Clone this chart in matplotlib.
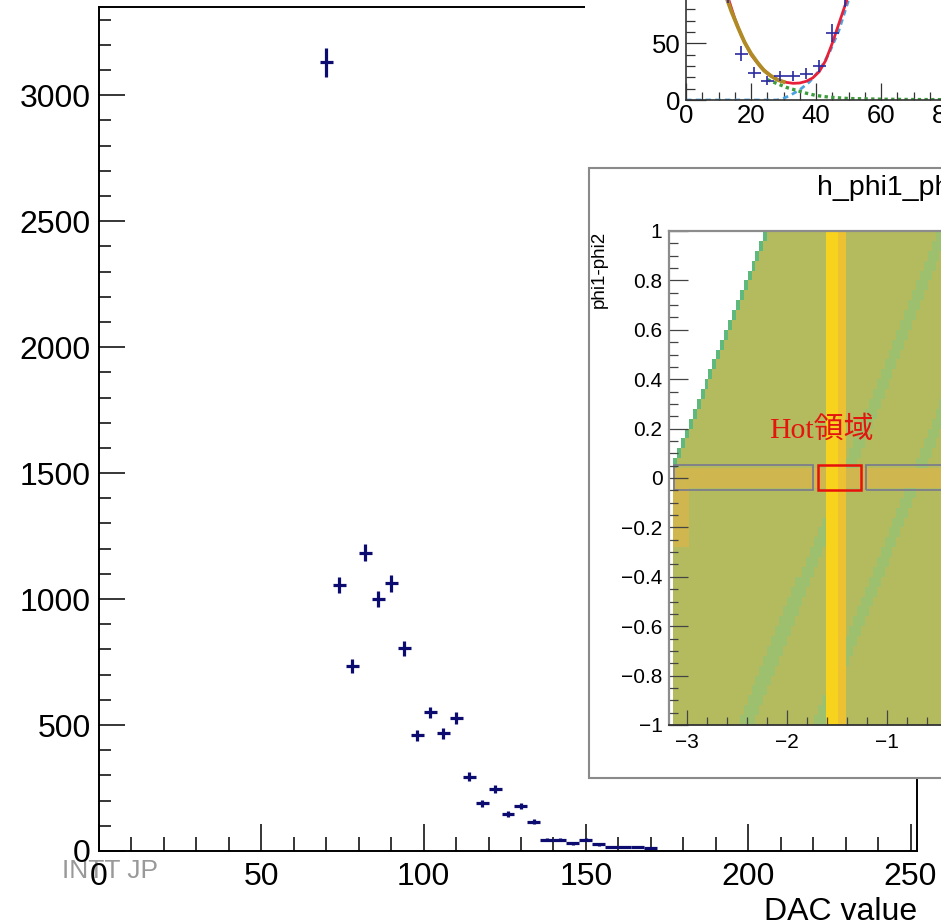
"""Threshold scan histogram with two pasted insets (fit view and phi map)."""
import numpy as np
import matplotlib
matplotlib.use("Agg")
import matplotlib.pyplot as plt
from matplotlib.colors import ListedColormap, BoundaryNorm
from matplotlib.patches import Rectangle
from matplotlib.ticker import MultipleLocator, FuncFormatter

plt.rcParams["font.family"] = ["Liberation Sans", "DejaVu Sans"]

W, H = 941, 924

# --- main histogram: entries per DAC bin (bin width 4) ---------------------
dac_centers = [70, 74, 78, 82, 86, 90, 94, 98, 102, 106, 110, 114, 118, 122,
               126, 130, 134, 138, 142, 146, 150, 154, 158, 162, 166, 170]
dac_counts = [3130, 1055, 734, 1184, 1001, 1062, 804, 460, 550, 467, 529, 295,
              189, 245, 146, 179, 116, 45, 45, 30, 45, 27, 17, 17, 15, 10]
dac_half_bin = 2

# --- top-right inset: fitted scan -----------------------------------------
fit_pts_x = [13, 17, 21, 25, 29, 33, 37, 41, 45, 49]
fit_pts_y = [95, 41, 24, 17, 21, 21, 23, 30, 59, 92]
total_x = [11, 13, 15, 17, 20, 23, 26, 29, 31, 33, 35, 37, 39, 41, 43, 45, 47, 49, 51, 53]
total_y = [110, 90, 72, 57, 40, 29, 21.5, 17, 15.5, 14.7, 15, 16.5, 19.5, 25, 35,
           50, 67, 84, 102, 120]
low_x = [10, 12, 14, 16, 18, 20, 22, 24, 26, 28, 30]
low_y = [112, 94, 78, 64, 51, 41, 33, 26, 21.5, 18, 16]
tail_x = [25, 28, 31, 34, 37, 40, 44, 50, 60, 70, 80, 100]
tail_y = [18, 14.5, 11, 8.5, 6, 4, 2.5, 1.3, 0.7, 0.4, 0.3, 0.2]
rise_x = [0, 28, 30, 32, 35, 38, 41, 44, 47, 50, 52]
rise_y = [0, 0, 1.5, 4, 9, 16, 26, 41, 61, 88, 108]

# --- lower-right inset: phi1 vs phi1-phi2 map, by its visible regions -------
band_core = (-1.61, -1.50)       # bright yellow column
band_edge = (-1.50, -1.40)       # golden column next to it
hot_row = (-0.05, 0.05)          # warmer row at phi1-phi2 ~ 0
tan_patch = (-3.15, -2.98, -0.28, 0.05)
empty_offset = 3.2               # (phi1-phi2) - phi1 above this is empty
stripe_offsets = [1.42, 0.70]
stripe_half = 0.065
level_colors = ["#5fb87c", "#9cc06d", "#b4bb5f", "#cfb64f", "#ecc232", "#f8d31e"]
grey_boxes = [(-3.13, -1.74), (-1.21, 3.12)]
red_box = (-1.69, -1.26)
box_y = (-0.047, 0.054)


def fig_box(x0, y0, x1, y1):
    """pixel box (top-left origin) -> figure fraction [l, b, w, h]"""
    return [x0 / W, 1 - y1 / H, (x1 - x0) / W, (y1 - y0) / H]


fig = plt.figure(figsize=(W / 100, H / 100), dpi=100)

# ---------------- main panel ----------------
ax = fig.add_axes(fig_box(99, 7, 917, 851))
ax.set_zorder(0)
ax.errorbar(dac_centers, dac_counts, xerr=dac_half_bin, yerr=np.sqrt(dac_counts),
            fmt="none", ecolor="#0c0c70", elinewidth=2.3, capsize=0)
ax.set_xlim(0, 252)
ax.set_ylim(0, 3350)
ax.xaxis.set_major_locator(MultipleLocator(50))
ax.xaxis.set_minor_locator(MultipleLocator(10))
ax.yaxis.set_major_locator(MultipleLocator(500))
ax.yaxis.set_minor_locator(MultipleLocator(100))
ax.tick_params(axis="both", which="both", direction="in", width=1.1, labelsize=23)
ax.tick_params(axis="x", which="major", length=19.5, pad=8)
ax.tick_params(axis="x", which="minor", length=10)
ax.tick_params(axis="y", which="major", length=18.5, pad=6)
ax.tick_params(axis="y", which="minor", length=8.6)
for s in ax.spines.values():
    s.set_linewidth(1.4)
fig.text(917 / W, 1 - 920 / H, "DAC value", ha="right", va="baseline", fontsize=23)
fig.text(62 / W, 1 - 878 / H, "INTT JP", ha="left", va="baseline", fontsize=19,
         color="#8e8e8e", alpha=0.9, zorder=-1)

# ---------------- top-right inset ----------------
fig.add_artist(Rectangle((585 / W, 1 - 169 / H), (W - 585) / W, 169 / H,
                         transform=fig.transFigure, facecolor="white",
                         edgecolor="none", zorder=1))
ax1 = fig.add_axes(fig_box(686, -36, 1011, 100))
ax1.set_zorder(2)
ax1.set_xlim(0, 100)
ax1.set_ylim(0, 120)
ax1.plot(rise_x, rise_y, color="#4aa3df", lw=2.0, ls=(0, (2, 1.5)))
ax1.plot(tail_x, tail_y, color="#3c9c3c", lw=2.4, ls=(0, (1, 1)))
ax1.plot(total_x, total_y, color="#e8213a", lw=2.0)
ax1.plot(low_x, low_y, color="#b08a24", lw=2.8)
ax1.errorbar(fit_pts_x, fit_pts_y, xerr=2, yerr=np.sqrt(fit_pts_y), fmt="none",
             ecolor="#2a2aa0", elinewidth=1.2, capsize=0)
ax1.xaxis.set_major_locator(MultipleLocator(20))
ax1.xaxis.set_minor_locator(MultipleLocator(5))
ax1.yaxis.set_major_locator(MultipleLocator(50))
ax1.yaxis.set_minor_locator(MultipleLocator(10))
ax1.tick_params(axis="both", which="both", direction="in", width=0.9,
                labelsize=18.5, color="#333333")
ax1.tick_params(axis="x", which="major", length=12, pad=3)
ax1.tick_params(axis="x", which="minor", length=6)
ax1.tick_params(axis="y", which="major", length=14.5, pad=4)
ax1.tick_params(axis="y", which="minor", length=6.5)
ax1.spines["top"].set_visible(False)
ax1.spines["right"].set_visible(False)
for s in ("left", "bottom"):
    ax1.spines[s].set_linewidth(1.2)
    ax1.spines[s].set_color("#333333")

# ---------------- lower-right inset ----------------
fig.add_artist(Rectangle((589 / W, 1 - 778 / H), (W + 20 - 589) / W, (778 - 168) / H,
                         transform=fig.transFigure, facecolor="white",
                         edgecolor="#8a8a8a", lw=1.5, zorder=3))
ax2 = fig.add_axes(fig_box(669.4, 231, 1305.5, 725))
ax2.set_zorder(4)

xe = np.linspace(-np.pi, np.pi, 161)
ye = np.linspace(-1, 1, 51)
X, Y = np.meshgrid(0.5 * (xe[1:] + xe[:-1]), 0.5 * (ye[1:] + ye[:-1]))
D = Y - X
lvl = np.full(X.shape, 3.0)
for c in stripe_offsets:
    lvl[np.abs(D - c) < stripe_half] = 2
lvl[(Y > hot_row[0]) & (Y < hot_row[1])] = 4
lvl[(X > tan_patch[0]) & (X < tan_patch[1]) & (Y > tan_patch[2]) & (Y < tan_patch[3])] = 4
lvl[(X >= band_core[0]) & (X < band_core[1])] = 6
lvl[(X >= band_edge[0]) & (X < band_edge[1])] = 5
lvl[D > empty_offset - 0.04] = 1
lvl[D > empty_offset] = np.nan
cmap = ListedColormap(level_colors)
norm = BoundaryNorm(np.arange(0.5, 7.5, 1), cmap.N)
ax2.pcolormesh(xe, ye, np.ma.masked_invalid(lvl), cmap=cmap, norm=norm)

for x0, x1 in grey_boxes:
    ax2.add_patch(Rectangle((x0, box_y[0]), x1 - x0, box_y[1] - box_y[0],
                            fill=False, edgecolor="#7d7d8c", lw=1.3))
ax2.add_patch(Rectangle((red_box[0], box_y[0]), red_box[1] - red_box[0],
                        box_y[1] - box_y[0], fill=False, edgecolor="#e8100a", lw=1.8))
ax2.text(-1.652, 0.163, "Hot領域", ha="center", va="baseline", fontsize=21.5,
         color="#e3150f", family=["Liberation Serif", "Noto Sans CJK JP"])

ax2.set_xlim(-3.18, 3.2)
ax2.set_ylim(-1, 1)
ax2.xaxis.set_major_locator(MultipleLocator(1))
ax2.xaxis.set_minor_locator(MultipleLocator(0.2))
ax2.yaxis.set_major_locator(MultipleLocator(0.2))
ax2.yaxis.set_minor_locator(MultipleLocator(0.05))
fmt = FuncFormatter(lambda v, p: ("%g" % round(v, 2)).replace("-", "\u2212"))
ax2.xaxis.set_major_formatter(fmt)
ax2.yaxis.set_major_formatter(fmt)
ax2.tick_params(axis="both", which="both", direction="in", width=0.9,
                labelsize=15, color="#444444")
ax2.tick_params(axis="x", which="major", length=11, pad=6)
ax2.tick_params(axis="x", which="minor", length=5.5)
ax2.tick_params(axis="y", which="major", length=14, pad=5)
ax2.tick_params(axis="y", which="minor", length=6.8)
for s in ("top", "left", "right"):
    ax2.spines[s].set_color("#8c8c8c")
    ax2.spines[s].set_linewidth(1.6)
ax2.spines["bottom"].set_color("#333333")
ax2.spines["bottom"].set_linewidth(1.3)

fig.text(817 / W, 1 - 195 / H, "h_phi1_phi2", ha="left", va="baseline",
         fontsize=20.5, zorder=5)
fig.text(599 / W, 1 - 231 / H, "phi1-phi2", rotation=90, ha="center", va="top",
         fontsize=13.5, zorder=5)

fig.savefig("out.png", dpi=100)
